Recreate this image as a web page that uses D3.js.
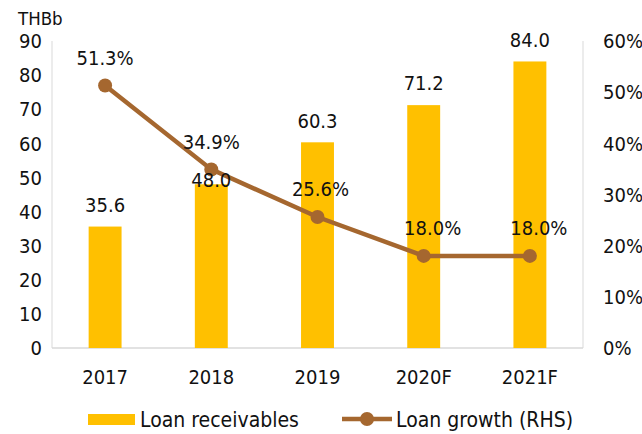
<!DOCTYPE html>
<html>
<head>
<meta charset="utf-8">
<script src="https://cdn.jsdelivr.net/npm/d3@7"></script>
<style>
  body { margin: 0; background: #fff; }
  text { font-family: Tahoma, "DejaVu Sans Condensed", "DejaVu Sans", sans-serif; fill: #111; }
</style>
</head>
<body>
<div id="chart"></div>
<script>
var years = ["2017", "2018", "2019", "2020F", "2021F"];
var loans = [35.6, 48.0, 60.3, 71.2, 84.0];
var growth = [51.3, 34.9, 25.6, 18.0, 18.0];
var leftTicks = [0, 10, 20, 30, 40, 50, 60, 70, 80, 90];
var rightTicks = [0, 10, 20, 30, 40, 50, 60];

var width = 642, height = 434;
var margin = {top: 41, right: 59, bottom: 86, left: 52};
var x0 = margin.left, x1 = width - margin.right;
var y0 = height - margin.bottom, y1 = margin.top;

var svg = d3.select("#chart").append("svg")
    .attr("width", width)
    .attr("height", height);

var x = d3.scaleBand().domain(years).range([x0, x1]).paddingInner(0.69).paddingOuter(0.345);
var yL = d3.scaleLinear().domain([0, 90]).range([y0, y1]);
var yR = d3.scaleLinear().domain([0, 60]).range([y0, y1]);
var cx = function (d) { return x(d) + x.bandwidth() / 2; };

// axis lines
var axisColor = "#d9d9d9";
svg.append("line").attr("x1", x0).attr("x2", x0).attr("y1", y1).attr("y2", y0).attr("stroke", axisColor);
svg.append("line").attr("x1", x1).attr("x2", x1).attr("y1", y1).attr("y2", y0).attr("stroke", axisColor);
svg.append("line").attr("x1", x0).attr("x2", x1).attr("y1", y0).attr("y2", y0).attr("stroke", axisColor).attr("stroke-width", 1.5);

// tick labels
svg.selectAll(".lt").data(leftTicks).enter().append("text")
    .attr("x", x0 - 10).attr("y", function (d) { return yL(d); })
    .attr("dy", "0.36em").attr("text-anchor", "end")
    .style("font-size", "20px").text(function (d) { return d; });

svg.selectAll(".rt").data(rightTicks).enter().append("text")
    .attr("x", x1 + 20).attr("y", function (d) { return yR(d); })
    .attr("dy", "0.36em").attr("text-anchor", "start")
    .style("font-size", "20px").text(function (d) { return d + "%"; });

svg.selectAll(".xt").data(years).enter().append("text")
    .attr("x", cx).attr("y", y0 + 29)
    .attr("dy", "0.36em").attr("text-anchor", "middle")
    .style("font-size", "20px").text(function (d) { return d; });

svg.append("text").attr("x", 18).attr("y", 18).attr("dy", "0.36em")
    .style("font-size", "18.5px").text("THBb");

// bars
var barColor = "#FFC000";
svg.selectAll(".bar").data(loans).enter().append("rect")
    .attr("x", function (d, i) { return x(years[i]); })
    .attr("width", x.bandwidth())
    .attr("y", function (d) { return yL(d); })
    .attr("height", function (d) { return y0 - yL(d); })
    .attr("fill", barColor);

// line
var lineColor = "#A5672F";
var line = d3.line()
    .x(function (d, i) { return cx(years[i]); })
    .y(function (d) { return yR(d); });

svg.append("path").datum(growth)
    .attr("d", line).attr("fill", "none")
    .attr("stroke", lineColor).attr("stroke-width", 4.5);

svg.selectAll(".dot").data(growth).enter().append("circle")
    .attr("cx", function (d, i) { return cx(years[i]); })
    .attr("cy", function (d) { return yR(d); })
    .attr("r", 7).attr("fill", lineColor);

// labels
svg.selectAll(".bl").data(loans).enter().append("text")
    .attr("x", function (d, i) { return cx(years[i]); })
    .attr("y", function (d, i) { return yL(d) - (i === 1 ? 4 : 22); })
    .attr("dy", "0.36em").attr("text-anchor", "middle")
    .style("font-size", "20px").text(function (d) { return d.toFixed(1); });

svg.selectAll(".gl").data(growth).enter().append("text")
    .attr("x", function (d, i) { return cx(years[i]) + (i === 2 ? 3 : (i > 2 ? 9 : 0)); })
    .attr("y", function (d) { return yR(d) - 28; })
    .attr("dy", "0.36em").attr("text-anchor", "middle")
    .style("font-size", "20px").text(function (d) { return d.toFixed(1) + "%"; });

// legend
var ly = 419;
svg.append("rect").attr("x", 88).attr("y", ly - 5).attr("width", 47).attr("height", 11).attr("fill", barColor);
svg.append("text").attr("x", 140).attr("y", ly).attr("dy", "0.36em")
    .style("font-size", "21px").text("Loan receivables");
svg.append("line").attr("x1", 342).attr("x2", 392).attr("y1", ly).attr("y2", ly)
    .attr("stroke", lineColor).attr("stroke-width", 4.5);
svg.append("circle").attr("cx", 367).attr("cy", ly).attr("r", 7).attr("fill", lineColor);
svg.append("text").attr("x", 396).attr("y", ly).attr("dy", "0.36em")
    .style("font-size", "21px").text("Loan growth (RHS)");
</script>
</body>
</html>
